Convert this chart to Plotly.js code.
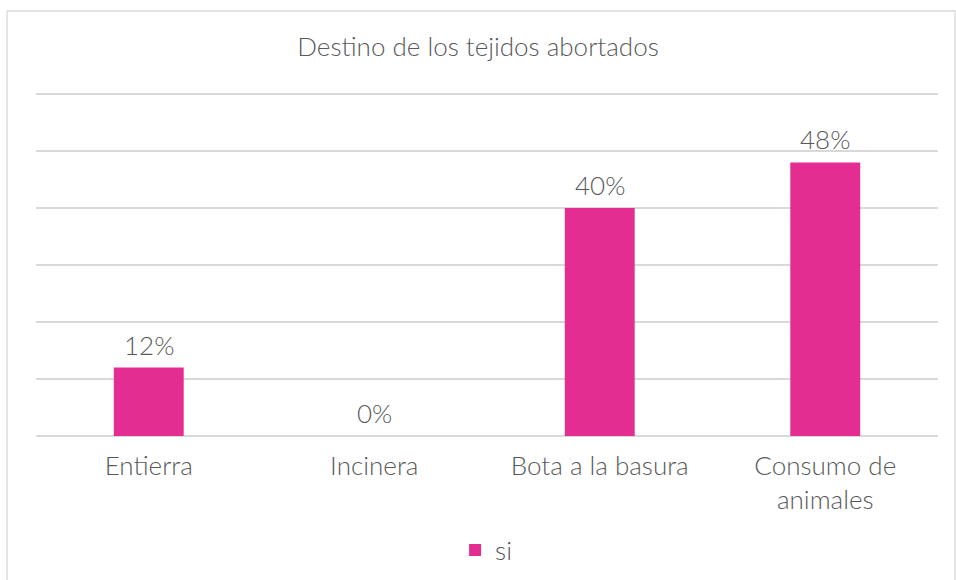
<!DOCTYPE html>
<html>
<head>
<meta charset="utf-8">
<script src="https://cdn.plot.ly/plotly-3.0.1.min.js"></script>
<style>html,body{margin:0;padding:0;background:#fff;}#chart{width:956px;height:580px;}</style>
</head>
<body>
<div id="chart"></div>
<script>
const categories = ["Entierra", "Incinera", "Bota a la basura", "Consumo de animales"];
const tickLabels = ["Entierra", "Incinera", "Bota a la basura", "Consumo de<br>animales"];
const seriesName = "si";
const values = [0.12, 0.00, 0.40, 0.48];
const valueLabels = ["12%", "0%", "40%", "48%"];

const FONT = "Lato, sans-serif";
const FS = 26;
const W = 300;
const GRAY = "#595959";
const PINK = "#E32D91";

const annotations = categories.map((c, i) => ({
  x: c, y: values[i], xref: "x", yref: "y",
  text: valueLabels[i], showarrow: false,
  yanchor: "bottom", yshift: 5,
  font: {family: FONT, size: FS, color: GRAY, weight: W}
}));

const data = [{
  type: "bar",
  x: categories,
  y: values,
  name: seriesName,
  marker: {color: PINK},
  width: 0.31,
  hoverinfo: "none"
}];

const layout = {
  width: 956, height: 580,
  margin: {l: 36, r: 18, t: 90, b: 144, autoexpand: false},
  paper_bgcolor: "#fff", plot_bgcolor: "#fff",
  font: {family: FONT, size: FS, color: GRAY, weight: W},
  title: {text: "Destino de los tejidos abortados", x: 0.5, xanchor: "center",
          y: 1 - 47/580, yanchor: "middle", yref: "container",
          font: {family: FONT, size: FS, color: GRAY, weight: W}},
  xaxis: {type: "category", tickvals: categories, ticktext: tickLabels, automargin: false,
          showgrid: false, showline: false, ticks: "", ticklen: 0, ticklabelstandoff: 12,
          tickfont: {family: FONT, size: FS, color: GRAY, weight: W}},
  yaxis: {range: [0, 0.6 * 346 / 342], dtick: 0.1, showticklabels: false, showgrid: true, automargin: false,
          gridcolor: "#d9d9d9", gridwidth: 1.3, zeroline: true, zerolinecolor: "#d9d9d9",
          zerolinewidth: 1.3, showline: false, ticks: "", fixedrange: true},
  showlegend: true,
  legend: {orientation: "h", x: 0.499, xanchor: "center", y: (436-550)/346, yanchor: "middle",
           font: {family: FONT, size: FS, color: GRAY, weight: W}},
  annotations: annotations,
  shapes: [{type: "rect", xref: "paper", yref: "paper",
            x0: (7-36)/902, x1: (955-36)/902, y0: -0.6, y1: (436-11)/346,
            line: {color: "#d9d9d9", width: 1.3}, fillcolor: "rgba(0,0,0,0)", layer: "below"}]
};

Plotly.newPlot("chart", data, layout, {displayModeBar: false, staticPlot: true});
</script>
</body>
</html>
